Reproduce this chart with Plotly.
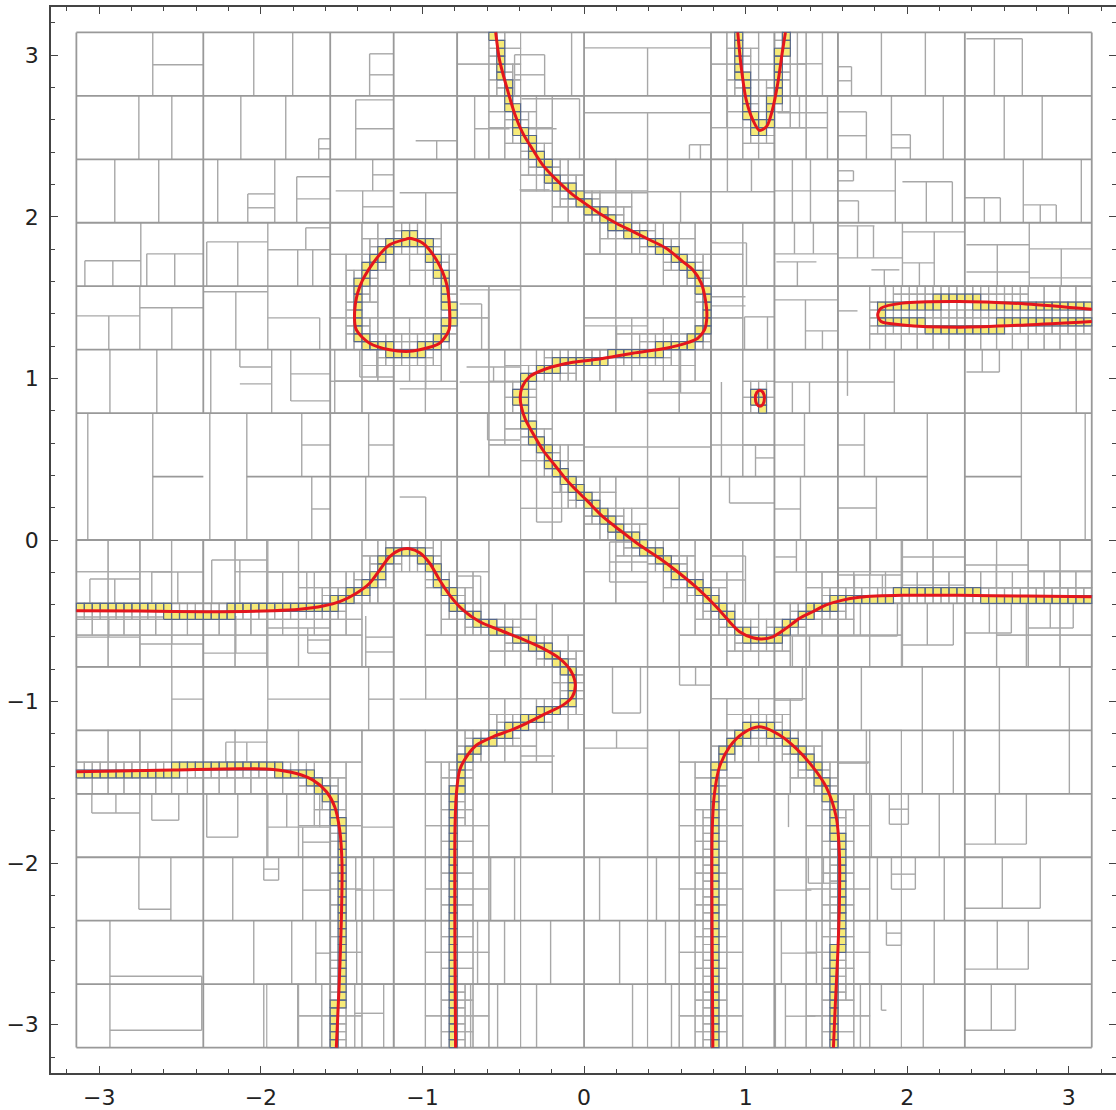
import numpy as np
import plotly.graph_objects as go

PI = np.pi

# ---- curve branches (data units) ----
s_x = [-0.547, -0.523, -0.481, -0.43, -0.38, -0.317, -0.255, -0.172, -0.069, 0.003, 0.096, 0.199, 0.30, 0.405,
       0.508, 0.611, 0.673, 0.725, 0.751, 0.76, 0.745, 0.704, 0.632, 0.508, 0.30, 0.096, -0.069, -0.234, -0.337,
       -0.382, -0.395, -0.388, -0.362, -0.317, -0.255, -0.182, -0.09, 0.014, 0.116, 0.22, 0.343, 0.467, 0.59,
       0.714, 0.818, 0.90, 0.962, 1.044, 1.10, 1.168, 1.25, 1.333, 1.415, 1.498, 1.60, 1.704, 1.807, 1.97, 2.32,
       2.735, 3.1416]
s_y = [3.1416, 2.97, 2.81, 2.64, 2.52, 2.415, 2.32, 2.23, 2.136, 2.085, 2.02, 1.96, 1.91, 1.858, 1.806, 1.723,
       1.672, 1.59, 1.486, 1.383, 1.30, 1.249, 1.218, 1.187, 1.156, 1.12, 1.10, 1.06, 1.011, 0.949, 0.887, 0.825,
       0.743, 0.661, 0.557, 0.464, 0.351, 0.248, 0.144, 0.062, -0.031, -0.113, -0.206, -0.31, -0.413, -0.506,
       -0.568, -0.605, -0.612, -0.599, -0.547, -0.485, -0.444, -0.402, -0.372, -0.355, -0.347, -0.342, -0.342,
       -0.347, -0.351]

w_x = [-3.1416, -2.749, -2.336, -1.925, -1.76, -1.615, -1.512, -1.409, -1.327, -1.265, -1.203, -1.141, -1.079,
       -1.017, -0.955, -0.894, -0.832, -0.75, -0.646, -0.523, -0.378, -0.255, -0.152, -0.079, -0.054, -0.073,
       -0.131, -0.234, -0.357, -0.44, -0.564, -0.667, -0.728, -0.77, -0.79, -0.799, -0.80, -0.799, -0.795]
w_y = [-0.438, -0.44, -0.444, -0.438, -0.429, -0.409, -0.382, -0.33, -0.268, -0.186, -0.103, -0.062, -0.054,
       -0.079, -0.144, -0.248, -0.341, -0.433, -0.506, -0.557, -0.615, -0.671, -0.733, -0.815, -0.898, -0.97,
       -1.022, -1.073, -1.135, -1.172, -1.218, -1.27, -1.342, -1.424, -1.568, -1.796, -2.147, -2.559, -3.1416]

a_x = [0.797, 0.793, 0.793, 0.807, 0.838, 0.90, 0.982, 1.085, 1.209, 1.312, 1.415, 1.498, 1.56, 1.58, 1.58,
       1.57, 1.555, 1.543]
a_y = [-3.1416, -2.559, -1.796, -1.568, -1.404, -1.28, -1.197, -1.156, -1.207, -1.29, -1.404, -1.528, -1.713,
       -1.94, -2.25, -2.559, -2.869, -3.1416]

d_x = [-3.1416, -2.543, -2.13, -1.925, -1.78, -1.677, -1.594, -1.543, -1.512, -1.498, -1.502, -1.516, -1.533]
d_y = [-1.435, -1.424, -1.416, -1.42, -1.445, -1.486, -1.558, -1.651, -1.796, -2.002, -2.353, -2.766, -3.1416]

l_x = [-1.10, -1.203, -1.306, -1.388, -1.419, -1.409, -1.327, -1.203, -1.10, -1.017, -0.894, -0.836, -0.832,
       -0.852, -0.914, -0.997, -1.079, -1.10]
l_y = [1.862, 1.827, 1.713, 1.568, 1.424, 1.30, 1.218, 1.177, 1.166, 1.177, 1.218, 1.30, 1.424, 1.59, 1.734,
       1.837, 1.868, 1.862]

u_x = [0.951, 0.972, 1.003, 1.044, 1.085, 1.13, 1.165, 1.199, 1.226, 1.246]
u_y = [3.1416, 2.931, 2.725, 2.60, 2.535, 2.56, 2.66, 2.828, 3.014, 3.1416]

g_x = [1.088, 1.108, 1.116, 1.108, 1.088, 1.068, 1.06, 1.068, 1.088]
g_y = [0.927, 0.912, 0.877, 0.842, 0.827, 0.842, 0.877, 0.912, 0.927]

o_x = [3.1416, 2.735, 2.32, 1.97, 1.838, 1.817, 1.838, 1.97, 2.32, 2.735, 3.1416]
o_y = [1.428, 1.461, 1.476, 1.466, 1.435, 1.393, 1.352, 1.331, 1.317, 1.331, 1.352]

branches = [(s_x, s_y), (w_x, w_y), (a_x, a_y), (d_x, d_y), (l_x, l_y), (u_x, u_y), (g_x, g_y), (o_x, o_y)]

tick_vals = [-3, -2, -1, 0, 1, 2, 3]
tick_text = ["\u22123", "\u22122", "\u22121", "0", "1", "2", "3"]

# extra split lines: vertical [x, y0, y1], horizontal [y, x0, x1]
split_v = [
    [-2.669, 2.749, 3.1416], [-2.044, 2.749, 3.1416], [-1.803, 2.749, 3.1416], [-1.327, 2.749, 3.009],
    [-0.430, 2.749, 3.003], [-0.244, 2.749, 3.003], [-0.077, 2.749, 3.1416], [0.393, 2.749, 3.046],
    [1.320, 2.749, 3.1416], [1.475, 2.749, 3.1416], [1.840, 2.749, 3.1416], [2.112, 2.749, 3.1416],
    [1.655, 2.749, 2.929], [2.539, 2.749, 3.102], [2.712, 2.749, 3.102],
    [-2.755, 2.356, 2.749], [-2.551, 2.356, 2.749], [-2.124, 2.356, 2.749], [-1.846, 2.356, 2.749],
    [-1.642, 2.356, 2.483], [-1.413, 2.356, 2.724], [-0.912, 2.356, 2.471], [-0.677, 2.356, 2.749],
    [-0.028, 2.356, 2.731], [0.393, 2.356, 2.644], [0.652, 2.356, 2.446], [0.720, 2.356, 2.446],
    [0.887, 2.356, 2.749], [1.333, 2.551, 2.749], [1.506, 2.356, 2.749], [1.902, 2.356, 2.749],
    [2.223, 2.356, 2.749], [1.747, 2.356, 2.650], [2.019, 2.356, 2.508], [2.600, 2.356, 2.749],
    [2.835, 2.356, 2.749],
    [-2.904, 1.963, 2.356], [-2.632, 1.963, 2.356], [-2.267, 1.963, 2.356], [-1.914, 1.963, 2.356],
    [-2.081, 1.963, 2.142], [-1.778, 1.963, 2.248], [-1.308, 2.161, 2.356], [-1.370, 1.963, 2.161],
    [-0.980, 1.963, 2.149], [0.393, 1.963, 2.356], [0.597, 1.963, 2.155], [0.887, 2.155, 2.356],
    [1.036, 2.155, 2.356], [1.289, 1.963, 2.356], [1.401, 1.963, 2.356], [1.926, 1.963, 2.356],
    [2.118, 1.963, 2.217], [2.279, 1.963, 2.217], [1.667, 2.223, 2.285], [1.698, 1.963, 2.099],
    [2.477, 1.963, 2.118], [2.576, 1.963, 2.118], [2.718, 1.963, 2.356], [2.823, 1.963, 2.074],
    [2.922, 1.963, 2.074], [3.077, 1.963, 2.356],
    [-2.743, 1.571, 1.963], [-3.089, 1.571, 1.728], [-2.916, 1.571, 1.728], [-2.706, 1.571, 1.771],
    [-2.533, 1.571, 1.771], [-2.335, 1.571, 1.845], [-2.143, 1.571, 1.845], [-1.957, 1.571, 1.963],
    [-1.722, 1.796, 1.932], [-1.772, 1.571, 1.796], [-1.679, 1.571, 1.796], [-0.393, 1.178, 1.963],
    [0.393, 1.571, 1.963], [1.005, 1.571, 1.839], [1.302, 1.771, 1.963], [1.419, 1.771, 1.963],
    [1.320, 1.571, 1.721], [1.791, 1.746, 1.944], [1.692, 1.746, 1.944], [1.970, 1.571, 1.963],
    [1.858, 1.571, 1.672], [2.167, 1.571, 1.907], [2.075, 1.571, 1.715], [2.557, 1.571, 1.827],
    [2.755, 1.571, 1.963], [2.953, 1.571, 1.802],
    [-2.749, 1.178, 1.571], [-2.941, 1.178, 1.387], [-2.551, 1.178, 1.437], [-2.155, 1.178, 1.536],
    [-1.957, 1.178, 1.571], [-1.636, 1.178, 1.375], [-0.591, 1.178, 1.548], [-0.634, 1.178, 1.461],
    [0.201, 1.178, 1.325], [0.393, 1.178, 1.571], [0.993, 1.178, 1.381], [1.135, 1.178, 1.381],
    [1.370, 1.178, 1.486], [1.475, 1.178, 1.294],
    [-2.934, 0.785, 1.178], [-2.644, 0.785, 1.178], [-2.310, 0.785, 1.178], [-1.933, 0.785, 1.178],
    [-2.130, 1.071, 1.178], [-1.815, 0.861, 1.178], [-1.543, 0.785, 1.178], [-1.388, 1.009, 1.178],
    [-1.283, 1.009, 1.178], [-0.980, 0.935, 1.178], [-0.560, 0.978, 1.071], [0.393, 0.785, 1.178],
    [0.597, 0.910, 1.178], [0.850, 0.785, 0.978], [1.289, 0.785, 0.978], [1.395, 0.785, 0.978],
    [1.920, 0.785, 1.178], [1.630, 0.892, 1.178], [2.464, 1.040, 1.178], [2.570, 1.040, 1.178],
    [2.706, 0.785, 1.178], [3.046, 0.785, 1.178],
    [-3.071, 0.0, 0.785], [-2.669, 0.0, 0.785], [-2.316, 0.0, 0.785], [-2.087, 0.0, 0.785],
    [-1.747, 0.393, 0.785], [-1.685, 0.0, 0.393], [-1.333, 0.393, 0.785], [-1.351, 0.0, 0.393],
    [-0.980, 0.0, 0.266], [-0.597, 0.619, 0.785], [-0.294, 0.111, 0.393], [-0.139, 0.111, 0.393],
    [0.393, 0.0, 0.785], [0.850, 0.393, 0.785], [1.061, 0.393, 0.588], [0.900, 0.229, 0.393],
    [1.364, 0.393, 0.785], [1.339, 0.0, 0.393], [1.735, 0.393, 0.785], [1.809, 0.0, 0.393],
    [2.124, 0.0, 0.785], [2.706, 0.0, 0.785], [3.101, 0.0, 0.785],
    [-3.058, -0.393, -0.241], [-2.904, -0.393, -0.241], [-2.749, -0.393, 0.0], [-2.675, -0.393, -0.198],
    [-2.514, -0.393, -0.198], [-1.957, -0.393, 0.0], [-2.304, -0.393, -0.124], [-2.130, -0.393, -0.124],
    [-1.865, -0.393, -0.198], [-1.716, -0.393, -0.198], [-0.393, -0.393, 0.0], [-0.640, -0.393, -0.223],
    [0.158, -0.260, -0.012], [0.393, -0.393, 0.0], [0.999, -0.393, -0.099], [1.314, -0.198, 0.0],
    [1.772, -0.211, 0.0], [1.970, -0.393, 0.0], [1.673, -0.393, -0.217], [1.846, -0.393, -0.217],
    [2.161, -0.310, -0.105], [2.551, -0.297, -0.155], [2.947, -0.297, -0.192], [2.749, -0.393, 0.0],
    [-2.941, -0.601, -0.477], [-2.749, -0.785, -0.393], [-2.551, -0.644, -0.477], [-2.155, -0.700, -0.471],
    [-1.957, -0.785, -0.393], [-1.710, -0.700, -0.545], [-1.351, -0.785, -0.471], [-0.393, -0.785, -0.393],
    [0.393, -0.785, -0.393], [1.289, -0.785, -0.594], [1.395, -0.785, -0.594], [1.939, -0.594, -0.393],
    [1.710, -0.594, -0.393], [1.970, -0.785, -0.393], [2.124, -0.650, -0.393], [2.285, -0.650, -0.393],
    [2.508, -0.576, -0.393], [2.644, -0.576, -0.393], [2.885, -0.545, -0.393], [3.027, -0.545, -0.393],
    [2.737, -0.785, -0.393],
    [-2.551, -1.178, -0.785], [-1.957, -1.178, -0.785], [-1.333, -1.178, -0.785], [-0.980, -0.985, -0.785],
    [-0.393, -1.178, -0.785], [0.176, -1.071, -0.785], [0.349, -1.071, -0.785], [0.393, -1.178, -0.785],
    [0.591, -0.898, -0.785], [0.690, -0.898, -0.785], [1.351, -0.991, -0.785], [1.716, -1.178, -0.785],
    [2.093, -1.178, -0.785], [2.570, -1.178, -0.785], [3.003, -1.178, -0.785],
    [-2.749, -1.571, -1.178], [-2.217, -1.375, -1.251], [-2.087, -1.375, -1.251], [-1.376, -1.368, -1.178],
    [-0.393, -1.963, -1.300], [0.201, -1.288, -1.178], [0.393, -1.571, -1.178], [1.747, -1.571, -1.178],
    [2.093, -1.571, -1.178], [2.285, -1.571, -1.178], [2.570, -1.571, -1.178], [3.003, -1.571, -1.178],
    [-3.046, -1.690, -1.571], [-2.897, -1.690, -1.571], [-2.749, -1.963, -1.571], [-2.675, -1.734, -1.571],
    [-2.508, -1.734, -1.571], [-2.335, -1.839, -1.571], [-2.143, -1.839, -1.571], [-1.957, -1.963, -1.571],
    [-1.840, -1.777, -1.571], [-1.741, -1.963, -1.777], [-1.636, -1.777, -1.571], [-1.376, -1.963, -1.571],
    [0.393, -1.963, -1.571], [1.265, -1.777, -1.571], [1.778, -1.963, -1.571], [1.889, -1.759, -1.571],
    [2.007, -1.759, -1.571], [2.198, -1.963, -1.571], [2.545, -1.882, -1.571], [2.737, -1.882, -1.571],
    [-2.755, -2.285, -1.963], [-2.557, -2.356, -1.963], [-2.174, -2.356, -1.963], [-1.982, -2.105, -1.963],
    [-1.890, -2.105, -1.963], [-1.741, -2.356, -1.963], [-1.413, -2.356, -1.963], [-1.302, -2.356, -1.963],
    [-0.578, -2.356, -1.963], [-0.430, -2.356, -1.963], [0.096, -2.356, -1.963], [0.448, -2.356, -1.963],
    [1.388, -2.124, -1.963], [1.481, -2.124, -1.963], [1.815, -2.356, -1.963], [1.902, -2.161, -1.963],
    [2.050, -2.161, -1.963], [2.229, -2.356, -1.963], [2.588, -2.279, -1.963], [2.823, -2.279, -1.963],
    [-2.934, -3.1416, -2.356], [-2.366, -3.034, -2.700], [-2.044, -2.749, -2.356], [-1.809, -2.749, -2.356],
    [-1.660, -2.749, -2.356], [-1.407, -2.749, -2.356], [-0.659, -2.749, -2.356], [-0.492, -2.749, -2.356],
    [-0.207, -2.749, -2.356], [0.220, -2.749, -2.356], [0.504, -2.749, -2.356], [1.221, -2.749, -2.356],
    [1.438, -2.749, -2.356], [1.766, -2.749, -2.356], [1.871, -2.508, -2.356], [1.964, -2.508, -2.356],
    [2.167, -2.749, -2.356], [2.557, -2.656, -2.356], [2.749, -2.656, -2.356],
    [-1.982, -3.1416, -2.749], [-1.772, -3.1416, -2.749], [-1.623, -3.1416, -2.749], [-1.419, -3.1416, -2.749],
    [-1.240, -3.1416, -2.749], [-0.702, -3.1416, -2.749], [-0.535, -3.1416, -2.749], [-0.294, -3.1416, -2.749],
    [0.300, -3.1416, -2.749], [0.541, -3.1416, -2.749], [1.184, -3.1416, -2.749], [1.246, -3.1416, -2.749],
    [1.710, -3.1416, -2.749], [1.840, -2.910, -2.749], [2.099, -3.1416, -2.749], [2.520, -3.034, -2.749],
    [2.669, -3.034, -2.749],
]
split_h = [
    [2.941, -2.669, -2.356], [3.009, -1.327, -1.178], [2.879, -1.327, -1.178], [3.003, -0.430, -0.244],
    [2.879, -0.430, -0.244], [3.046, 0.0, 0.785], [2.947, 1.320, 1.475], [2.929, 1.571, 1.655],
    [2.842, 1.571, 1.655], [3.102, 2.366, 2.712],
    [2.483, -1.642, -1.571], [2.421, -1.642, -1.571], [2.724, -1.413, -1.178], [2.545, -1.413, -1.178],
    [2.471, -1.042, -0.785], [2.731, -0.387, -0.028], [2.545, -0.380, -0.170], [2.545, -0.677, -0.461],
    [2.644, 0.0, 0.785], [2.446, 0.652, 0.785], [2.644, 1.197, 1.506], [2.551, 1.197, 1.506],
    [2.650, 1.571, 1.747], [2.502, 1.571, 1.747], [2.508, 1.902, 2.019], [2.427, 1.902, 2.019],
    [2.142, -2.081, -1.914], [2.056, -2.081, -1.914], [2.248, -1.778, -1.571], [2.111, -1.778, -1.571],
    [2.161, -1.537, -1.178], [2.260, -1.308, -1.178], [2.062, -1.370, -1.178], [2.149, -1.141, -0.785],
    [2.167, -0.399, -0.213], [2.149, 0.0, 0.393], [2.155, 0.393, 0.785], [2.155, 0.785, 1.178],
    [2.161, 1.178, 1.571], [2.161, 1.571, 1.926], [2.217, 1.970, 2.279], [2.285, 1.571, 1.667],
    [2.223, 1.571, 1.667], [2.099, 1.571, 1.698], [2.118, 2.356, 2.576], [2.074, 2.718, 2.922],
    [1.728, -3.089, -2.743], [1.771, -2.706, -2.356], [1.845, -2.335, -1.957], [1.932, -1.722, -1.571],
    [1.796, -1.957, -1.571], [1.771, 0.0, 0.393], [1.839, 0.785, 1.005], [1.771, 1.178, 1.571],
    [1.721, 1.190, 1.438], [1.944, 1.571, 1.797], [1.746, 1.571, 1.970], [1.672, 1.778, 1.951],
    [1.907, 1.970, 2.356], [1.715, 1.970, 2.167], [1.827, 2.366, 2.755], [1.659, 2.366, 2.755],
    [1.802, 2.755, 3.1416], [1.622, 2.755, 3.1416],
    [1.387, -3.1416, -2.749], [1.437, -2.749, -2.356], [1.536, -2.356, -1.957], [1.375, -1.957, -1.636],
    [1.548, -0.770, -0.393], [1.461, -0.770, -0.634], [1.325, 0.0, 0.393], [1.505, 0.785, 0.999],
    [1.449, 0.785, 0.999], [1.381, 0.993, 1.178], [1.486, 1.178, 1.571], [1.294, 1.370, 1.571],
    [1.418, 1.571, 1.692],
    [1.071, -2.130, -1.933], [0.966, -2.130, -1.933], [1.028, -1.815, -1.571], [0.861, -1.815, -1.571],
    [0.985, -1.543, -1.178], [1.009, -1.388, -1.178], [0.935, -1.141, -0.785], [1.071, -0.727, -0.393],
    [0.978, -0.770, -0.393], [0.910, 0.393, 0.785], [0.978, 1.178, 1.571], [0.978, 1.571, 1.920],
    [1.040, 2.366, 2.570],
    [0.588, -1.747, -1.571], [0.192, -1.685, -1.571], [0.588, -1.333, -1.178], [0.266, -1.141, -0.980],
    [0.619, -0.597, -0.393], [0.111, -0.294, -0.139], [0.576, 0.0, 0.785], [0.588, 0.785, 1.178],
    [0.508, 1.061, 1.178], [0.229, 0.900, 1.178], [0.588, 1.178, 1.364], [0.192, 1.178, 1.339],
    [0.588, 1.571, 1.735], [0.198, 1.571, 1.809],
    [-0.241, -3.058, -2.749], [-0.198, -2.675, -2.356], [-0.124, -2.304, -1.957], [-0.198, -1.957, -1.571],
    [-0.223, -0.785, -0.640], [-0.012, 0.158, 0.393], [-0.136, 0.158, 0.393], [-0.260, 0.158, 0.393],
    [-0.099, 0.785, 0.999], [-0.248, 0.785, 0.999], [-0.105, 1.184, 1.314], [-0.198, 1.178, 1.571],
    [-0.217, 1.571, 1.970], [-0.105, 1.970, 2.356], [-0.279, 1.970, 2.356], [-0.155, 2.356, 2.749],
    [-0.297, 2.356, 3.1416], [-0.192, 2.749, 3.1416],
    [-0.601, -3.1416, -2.749], [-0.477, -3.1416, -2.356], [-0.644, -2.749, -2.356], [-0.700, -2.356, -1.957],
    [-0.545, -1.957, -1.571], [-0.619, -1.710, -1.571], [-0.700, -1.710, -1.571], [-0.601, -1.351, -1.178],
    [-0.693, -1.351, -1.178], [-0.594, 1.178, 1.571], [-0.594, 1.571, 1.939], [-0.650, 1.970, 2.285],
    [-0.576, 2.356, 2.644], [-0.545, 2.749, 3.027],
    [-0.985, -2.551, -2.356], [-0.985, -1.957, -1.571], [-0.985, -1.333, -1.178], [-0.985, -1.141, -0.785],
    [-1.071, 0.176, 0.349], [-0.898, 0.591, 0.785], [-0.991, 1.178, 1.351],
    [-1.251, -2.217, -1.957], [-1.375, -2.217, -1.957], [-1.337, -0.393, -0.182], [-1.288, 0.0, 0.393],
    [-1.381, 1.571, 1.760],
    [-1.690, -3.046, -2.749], [-1.734, -2.675, -2.508], [-1.839, -2.335, -2.143], [-1.777, -1.957, -1.571],
    [-1.870, -1.741, -1.571], [-1.777, -1.376, -1.178], [-1.666, 1.889, 2.007], [-1.759, 1.889, 2.007],
    [-1.882, 2.356, 2.737],
    [-2.285, -2.755, -2.557], [-2.037, -1.982, -1.890], [-2.105, -1.982, -1.890], [-2.167, -1.741, -1.571],
    [-2.167, -1.413, -1.178], [-2.124, 1.388, 1.571], [-2.167, 1.184, 1.407], [-2.068, 1.902, 2.050],
    [-2.161, 1.902, 2.050], [-2.279, 2.356, 2.823],
    [-2.700, -2.934, -2.366], [-3.034, -2.934, -2.366], [-2.557, -1.660, -1.571], [-2.557, 1.221, 1.438],
    [-2.433, 1.871, 1.964], [-2.508, 1.871, 1.964], [-2.656, 2.356, 2.749],
    [-2.929, -1.419, -1.240], [-2.947, 1.246, 1.432], [-2.910, 1.840, 1.871], [-3.034, 2.356, 2.669],
]

# base partition of the square [-pi, pi]^2 (8 columns x 16 rows, plus the two +-3pi/8 lines)
n_cols, n_rows = 8, 16
x_edges = np.linspace(-PI, PI, n_cols + 1)
y_edges = np.linspace(-PI, PI, n_rows + 1)
extra_cols = [-3 * PI / 8, 3 * PI / 8]

# ---- adaptive subdivision following the curve ----
pts = []
for bx, by in branches:
    for i in range(len(bx) - 1):
        n = int(max(abs(bx[i + 1] - bx[i]), abs(by[i + 1] - by[i])) / 0.004) + 1
        t = np.linspace(0, 1, n, endpoint=False)
        pts.append(np.c_[bx[i] + t * (bx[i + 1] - bx[i]), by[i] + t * (by[i + 1] - by[i])])
P = np.vstack(pts)

cell_h = 2 * PI / 16
min_h = cell_h / 8 * 1.01
min_w = cell_h / 8 * 1.01
gray_boxes, yellow_boxes = [], []


def inside(Q, x0, x1, y0, y1, m):
    return Q[(Q[:, 0] >= x0 - m) & (Q[:, 0] <= x1 + m) & (Q[:, 1] >= y0 - m) & (Q[:, 1] <= y1 + m)]


def subdiv(x0, x1, y0, y1, Q):
    w, h = x1 - x0, y1 - y0
    if w <= min_w and h <= min_h:
        if len(inside(Q, x0, x1, y0, y1, 0.0)):
            yellow_boxes.append((x0, x1, y0, y1))
        else:
            gray_boxes.append((x0, x1, y0, y1))
        return
    m = 0.12 * max(w, h)
    Qn = inside(Q, x0, x1, y0, y1, m)
    if len(Qn) == 0:
        if h < cell_h * 0.99 or w < cell_h * 0.99:
            gray_boxes.append((x0, x1, y0, y1))
        return
    if (w >= h * 0.99 and w > min_w) or h <= min_h:
        xm = 0.5 * (x0 + x1)
        subdiv(x0, xm, y0, y1, Qn)
        subdiv(xm, x1, y0, y1, Qn)
    else:
        ym = 0.5 * (y0 + y1)
        subdiv(x0, x1, y0, ym, Qn)
        subdiv(x0, x1, ym, y1, Qn)


for i in range(n_cols):
    for j in range(n_rows):
        subdiv(x_edges[i], x_edges[i + 1], y_edges[j], y_edges[j + 1], P)


def rect_path(boxes):
    xs, ys = [], []
    for x0, x1, y0, y1 in boxes:
        xs += [x0, x1, x1, x0, x0, None]
        ys += [y0, y0, y1, y1, y0, None]
    return xs, ys


fig = go.Figure()

# read-off interior splits
sx, sy = [], []
for x, y0, y1 in split_v:
    sx += [x, x, None]
    sy += [y0, y1, None]
for y, x0, x1 in split_h:
    sx += [x0, x1, None]
    sy += [y, y, None]
fig.add_trace(go.Scatter(x=sx, y=sy, mode="lines", line=dict(color="#a8a8a8", width=1.4),
                         hoverinfo="skip", showlegend=False))

gx, gy = rect_path(gray_boxes)
fig.add_trace(go.Scatter(x=gx, y=gy, mode="lines", line=dict(color="#a8a8a8", width=1.2),
                         hoverinfo="skip", showlegend=False))

# base grid lines (with the gaps seen in the picture)
bx_l, by_l = [], []
for k, xe in enumerate(list(x_edges) + extra_cols):
    if k == 1:
        bx_l += [xe, xe, None, xe, xe, None]
        by_l += [-PI, 0.0, None, y_edges[10], PI, None]
    else:
        bx_l += [xe, xe, None]
        by_l += [-PI, PI, None]
for k, ye in enumerate(y_edges):
    if k == 9:
        for xa, xb in [(-2.669, -2.356), (-2.087, 2.124), (2.356, 2.706)]:
            bx_l += [xa, xb, None]
            by_l += [ye, ye, None]
    else:
        bx_l += [-PI, PI, None]
        by_l += [ye, ye, None]
fig.add_trace(go.Scatter(x=bx_l, y=by_l, mode="lines", line=dict(color="#999999", width=1.8),
                         hoverinfo="skip", showlegend=False))

yx, yy = rect_path(yellow_boxes)
fig.add_trace(go.Scatter(x=yx, y=yy, mode="lines", fill="toself", fillcolor="#f6ea78",
                         line=dict(color="#56678a", width=1.2), hoverinfo="skip", showlegend=False))

for bx, by in branches:
    fig.add_trace(go.Scatter(x=bx, y=by, mode="lines", line=dict(color="#e3161d", width=3, shape="spline",
                                                                   smoothing=0.8),
                             hoverinfo="skip", showlegend=False))

# invisible trace for right-hand tick axis
fig.add_trace(go.Scatter(x=[0], y=[0], yaxis="y2", mode="markers", marker=dict(opacity=0),
                         hoverinfo="skip", showlegend=False))

R = 1.05 * PI
axis_common = dict(showgrid=False, zeroline=False, ticks="inside", tickcolor="#444444", ticklen=7,
                   tickwidth=1.3, tickvals=tick_vals, ticktext=tick_text,
                   tickfont=dict(family="DejaVu Sans", size=22, color="#222222"),
                   minor=dict(dtick=0.2, tick0=0, ticks="inside", ticklen=4, tickcolor="#444444", tickwidth=1.1,
                              showgrid=False))

fig.update_layout(
    width=1116, height=1110,
    margin=dict(l=51, r=0, t=7, b=37),
    plot_bgcolor="white", paper_bgcolor="white",
    xaxis=dict(range=[-R, -R + 1065 / 161.6], showline=True, linecolor="#444444", linewidth=1.5,
               mirror="ticks", ticklabelstandoff=4, **axis_common),
    yaxis=dict(range=[-R, R], showline=True, linecolor="#444444", linewidth=1.5, mirror=False,
               ticklabelstandoff=6, **axis_common),
    yaxis2=dict(range=[-R, R], overlaying="y", side="right", showline=False, showticklabels=False,
                **{k: v for k, v in axis_common.items() if k not in ("tickfont",)}),
)

fig.write_html("out.html")
